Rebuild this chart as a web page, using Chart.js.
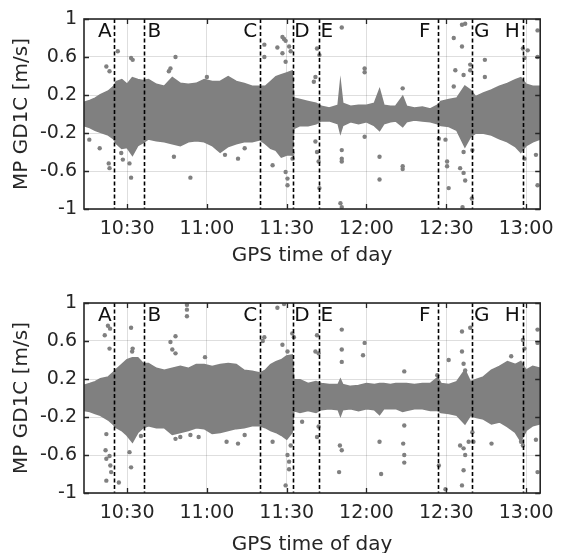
<!DOCTYPE html>
<html>
<head>
<meta charset="utf-8">
<script src="https://cdn.jsdelivr.net/npm/chart.js@4.4.1/dist/chart.umd.min.js"></script>
<style>
    html, body { margin: 0; padding: 0; background: #fff; overflow: hidden; width: 563px; height: 553px; }
    .panel { position: absolute; left: 0; width: 563px; height: 276px; }
</style>
</head>
<body>
<div class="panel" style="top:0"><canvas id="topChart" width="563" height="276"></canvas></div>
<div class="panel" style="top:284px"><canvas id="bottomChart" width="563" height="276"></canvas></div>
<script>
// time is minutes after midnight (GPS time of day)
const xMin = 613.8, xMax = 785.3;
const xTicks = [630, 660, 690, 720, 750, 780];
const xTickLabels = ["10:30", "11:00", "11:30", "12:00", "12:30", "13:00"];
const yTicks = [-1, -0.6, -0.2, 0.2, 0.6, 1];
const yTickLabels = ["-1", "-0.6", "-0.2", "0.2", "0.6", "1"];

// section boundaries A..H
const markerTimes = [625, 636.5, 680, 692.5, 702, 746.7, 759.7, 778.8];
const markerLabels = ["A", "B", "C", "D", "E", "F", "G", "H"];

// envelope of the dense point cloud
const bandTimes = [613.8, 616, 618, 620, 623, 625, 626, 628, 630, 632, 634, 636, 638, 641, 644, 647, 650, 653, 656, 659,
    662, 665, 668, 671, 674, 677, 680, 682, 684, 686, 688, 690, 692, 692.6, 695, 698, 701, 703, 706, 709.4,
    710.2, 711, 714, 717, 720, 723, 724.9, 726.5, 729, 731, 733.6, 735, 738, 741, 744, 746.7, 748, 751, 754, 757,
    759, 761, 764, 767, 770, 773, 776, 778, 780, 782.5, 785.3];

const topHi = [0.12, 0.14, 0.165, 0.20, 0.24, 0.29, 0.34, 0.36, 0.31, 0.38, 0.36, 0.35, 0.36, 0.31, 0.29, 0.38, 0.32, 0.31, 0.32, 0.36,
    0.34, 0.34, 0.39, 0.34, 0.32, 0.29, 0.29, 0.29, 0.34, 0.39, 0.41, 0.43, 0.45, 0.165, 0.15, 0.13, 0.11, 0.08, 0.06, 0.09,
    0.31, 0.11, 0.08, 0.09, 0.09, 0.11, 0.25, 0.09, 0.08, 0.08, 0.18, 0.08, 0.06, 0.07, 0.05, 0.09, 0.13, 0.15, 0.165, 0.29,
    0.25, 0.18, 0.22, 0.25, 0.29, 0.32, 0.36, 0.38, 0.31, 0.29, 0.29];
const topLo = [-0.12, -0.14, -0.17, -0.19, -0.22, -0.26, -0.31, -0.36, -0.35, -0.43, -0.33, -0.30, -0.26, -0.28, -0.29, -0.31, -0.33, -0.29, -0.28, -0.29,
    -0.33, -0.40, -0.34, -0.31, -0.29, -0.29, -0.27, -0.31, -0.36, -0.38, -0.45, -0.43, -0.43, -0.15, -0.12, -0.12, -0.10, -0.07, -0.07, -0.10,
    -0.19, -0.12, -0.08, -0.10, -0.08, -0.12, -0.17, -0.10, -0.08, -0.07, -0.13, -0.08, -0.06, -0.07, -0.08, -0.10, -0.12, -0.13, -0.17, -0.34,
    -0.24, -0.20, -0.20, -0.22, -0.26, -0.29, -0.34, -0.40, -0.33, -0.29, -0.26];

const botHi = [0.13, 0.15, 0.17, 0.20, 0.22, 0.27, 0.30, 0.35, 0.40, 0.42, 0.42, 0.36, 0.36, 0.31, 0.29, 0.31, 0.33, 0.31, 0.35, 0.35,
    0.33, 0.35, 0.36, 0.35, 0.29, 0.28, 0.26, 0.29, 0.35, 0.38, 0.40, 0.44, 0.45, 0.19, 0.19, 0.15, 0.17, 0.15, 0.14, 0.14,
    0.19, 0.14, 0.12, 0.13, 0.15, 0.14, 0.15, 0.15, 0.14, 0.15, 0.15, 0.15, 0.14, 0.15, 0.15, 0.21, 0.15, 0.14, 0.17, 0.29,
    0.17, 0.19, 0.22, 0.29, 0.33, 0.38, 0.35, 0.38, 0.29, 0.33, 0.31];
const botLo = [-0.13, -0.14, -0.16, -0.18, -0.23, -0.28, -0.31, -0.34, -0.39, -0.46, -0.36, -0.31, -0.29, -0.31, -0.31, -0.38, -0.36, -0.34, -0.31, -0.32,
    -0.37, -0.36, -0.34, -0.32, -0.31, -0.29, -0.29, -0.31, -0.34, -0.36, -0.39, -0.43, -0.36, -0.13, -0.15, -0.13, -0.15, -0.12, -0.11, -0.12,
    -0.18, -0.12, -0.11, -0.13, -0.11, -0.12, -0.17, -0.11, -0.11, -0.11, -0.14, -0.13, -0.11, -0.11, -0.13, -0.13, -0.15, -0.16, -0.18, -0.27,
    -0.18, -0.20, -0.22, -0.27, -0.25, -0.30, -0.36, -0.45, -0.34, -0.29, -0.27];

// isolated points outside the cloud
const topOutT = [615.8, 619.7, 622.2, 623.4, 623.4, 623.1, 626.5, 627.8, 628.4, 631.5, 632.1, 631.5, 630.9, 648.2, 647.6, 646.3, 645.7, 653.8, 660, 666.8,
    671.7, 674.2, 681.6, 681.6, 686.5, 688.4, 689, 689.6, 689.6, 690.9, 691.5, 688.4, 684.7, 689.6, 690.3, 690.3, 692.2, 692.2, 701.4, 702.3,
    700.8, 700.2, 700.8, 701.4, 702, 702.3, 710.7, 710.7, 710.7, 710.7, 710.2, 710.7, 719.3, 719.3, 719.3, 724.9, 724.9,
    733.6, 733.6, 733.6, 752.8, 755.9, 755.9, 757.1, 753.4, 752.8, 756.5, 759, 759, 764.5, 764.5, 750.3, 750.3, 750.9, 756.5, 755.2,
    756.5, 757.1, 756.1, 759.8, 759.6, 778.8, 779.4, 780.6, 784.3, 784.3, 783.7, 784.3, 779.4, 747.2, 749.7];
const topOutV = [-0.27, -0.36, 0.50, 0.45, -0.57, -0.52, 0.66, -0.41, -0.48, 0.59, 0.57, -0.67, -0.52, 0.60, -0.45, 0.48, 0.45, -0.67, 0.39, -0.43,
    -0.47, -0.36, 0.73, 0.60, 0.70, 0.81, 0.79, 0.77, 0.55, 0.71, 0.66, 0.64, -0.54, -0.61, -0.68, -0.75, -0.41, -0.47, 0.69, 0.62,
    0.39, 0.34, -0.29, -0.40, -0.50, -0.78, 0.91, -0.38, -0.47, -0.50, -0.94, -0.98, 0.48, 0.44, -0.24, -0.45, -0.69,
    0.27, -0.55, -0.58, 0.80, 0.71, 0.94, 0.95, 0.46, 0.29, 0.41, 0.52, 0.46, 0.57, 0.39, -0.50, -0.55, -0.78, -0.40, -0.57,
    -0.62, -0.70, -0.98, -0.38, -0.89, 0.69, 0.59, 0.67, 0.88, 0.60, -0.43, -0.75, -0.47, -0.26, -0.27];

const botOutT = [621.6, 622.8, 623.6, 623.4, 631.5, 631.9, 632.1, 622.2, 621.9, 622.2, 623.4, 623.7, 622.2, 626.9, 624, 630.9, 631.5, 635.2,
    648.2, 646.3, 647, 648.2, 652.5, 652.5, 652.5, 659.3, 648.2, 650, 653.8, 656.9, 667.4,
    689, 686.5, 681.6, 681, 688.4, 690.3, 692.1, 692.7, 701.4, 700.8, 702, 710.7, 710.7, 710.7, 719.3, 718.7, 671.7, 674.2, 684.7,
    690.3, 690.9, 690.9, 689.6, 691.5, 701.4, 702, 710, 710.7, 709.7, 724.9, 725.5, 695.8,
    734.2, 734.2, 733.8, 734.2, 734.2, 746.6, 747.2, 749.7, 750.9, 755.9, 759, 755.9, 756.5, 757.1, 755.2, 756.5, 757.1, 758.4,
    759.8, 760.2, 756.5, 755.9, 767, 774.4, 778.8, 779.4, 778.1, 778.8, 783.7, 784.3, 784.3, 784.3];
const botOutV = [0.66, 0.76, 0.73, 0.52, 0.74, 0.49, 0.52, -0.38, -0.55, -0.64, -0.61, -0.71, -0.87, -0.89, -0.78, -0.57, -0.73, -0.40,
    0.65, 0.59, 0.51, 0.47, 0.98, 0.93, 0.86, 0.43, -0.43, -0.41, -0.39, -0.41, -0.46,
    0.99, 0.95, 0.64, 0.60, 0.56, 0.49, 0.68, 0.64, 0.66, 0.49, 0.47, 0.72, 0.51, 0.38, 0.58, 0.45, -0.48, -0.39, -0.46,
    -0.60, -0.67, -0.75, -0.92, -0.50, -0.41, -0.30, -0.50, -0.55, -0.78, -0.46, -0.80, -0.25,
    0.28, -0.29, -0.48, -0.60, -0.68, 0.24, -0.71, -0.96, 0.40, 0.70, 0.74, 0.49, 0.36, 0.29, -0.50, -0.53, -0.60, -0.46,
    -0.36, -0.46, -0.76, -0.92, -0.48, 0.44, 0.61, 0.52, -0.46, -0.50, -0.44, 0.72, -0.78, 0.58];

const GRAY = "#808080";
const INK = "#262626";
const FONT = "'DejaVu Sans', sans-serif";

// MATLAB-style box, inward ticks, dashed section lines and letters
const matlabAxes = {
    id: "matlabAxes",
    afterDatasetsDraw(chart) {
        const { ctx, chartArea: a, scales: { x, y } } = chart;
        ctx.save();

        // dashed section lines
        ctx.strokeStyle = "#000";
        ctx.lineWidth = 1.6;
        ctx.setLineDash([4, 2.5]);
        markerTimes.forEach(t => {
            const px = Math.round(x.getPixelForValue(t)) + 0.5;
            ctx.beginPath();
            ctx.moveTo(px, a.top);
            ctx.lineTo(px, a.bottom);
            ctx.stroke();
        });
        ctx.setLineDash([]);

        // letters next to the lines
        const sides = ["L", "R", "L", "R", "R", "L", "R", "L"];
        const gaps = [2, 3, 3, 1, 2, 7, 2, 3];
        ctx.fillStyle = "#111";
        ctx.font = "20px " + FONT;
        ctx.textBaseline = "middle";
        markerTimes.forEach((t, i) => {
            const px = x.getPixelForValue(t);
            if (sides[i] === "L") {
                ctx.textAlign = "right";
                ctx.fillText(markerLabels[i], px - gaps[i], a.top + 13);
            } else {
                ctx.textAlign = "left";
                ctx.fillText(markerLabels[i], px + gaps[i], a.top + 13);
            }
        });

        // inward ticks on all four sides
        ctx.strokeStyle = INK;
        ctx.lineWidth = 1.3;
        ctx.beginPath();
        xTicks.forEach(t => {
            const px = Math.round(x.getPixelForValue(t)) + 0.5;
            ctx.moveTo(px, a.bottom); ctx.lineTo(px, a.bottom - 5);
            ctx.moveTo(px, a.top); ctx.lineTo(px, a.top + 5);
        });
        yTicks.forEach(v => {
            const py = Math.round(y.getPixelForValue(v)) + 0.5;
            ctx.moveTo(a.left, py); ctx.lineTo(a.left + 5, py);
            ctx.moveTo(a.right, py); ctx.lineTo(a.right - 5, py);
        });
        ctx.stroke();

        // box
        ctx.lineWidth = 1.6;
        ctx.strokeRect(a.left, a.top, a.right - a.left, a.bottom - a.top);
        ctx.restore();
    }
};

function makeChart(id, hi, lo, outT, outV, titleGap) {
    const ctx = document.getElementById(id).getContext("2d");
    return new Chart(ctx, {
        type: "line",
        data: {
            datasets: [{
                data: bandTimes.map((t, i) => ({ x: t, y: hi[i] })),
                borderColor: GRAY,
                borderWidth: 2,
                pointRadius: 0,
                fill: false
            }, {
                data: bandTimes.map((t, i) => ({ x: t, y: lo[i] })),
                borderColor: GRAY,
                borderWidth: 2,
                pointRadius: 0,
                backgroundColor: GRAY,
                fill: "-1"
            }, {
                type: "scatter",
                data: outT.map((t, i) => ({ x: t, y: outV[i] })),
                backgroundColor: GRAY,
                borderWidth: 0,
                pointRadius: 2.2
            }]
        },
        options: {
            responsive: false,
            animation: false,
            devicePixelRatio: 1,
            layout: { padding: { left: 0, right: 17, top: 19, bottom: 0 } },
            plugins: {
                legend: { display: false },
                tooltip: { enabled: false }
            },
            scales: {
                x: {
                    type: "linear",
                    min: xMin,
                    max: xMax,
                    afterBuildTicks: s => { s.ticks = xTicks.map(v => ({ value: v })); },
                    afterFit: s => { s.height = 67; },
                    ticks: {
                        autoSkip: false,
                        maxRotation: 0,
                        padding: 9,
                        color: INK,
                        font: { family: FONT, size: 19 },
                        callback: (v, i) => xTickLabels[i]
                    },
                    grid: { color: "rgba(0,0,0,0.13)", drawTicks: false },
                    border: { display: false },
                    title: {
                        display: true,
                        text: "GPS time of day",
                        color: INK,
                        font: { family: FONT, size: 20 },
                        padding: { top: 0, bottom: titleGap }
                    }
                },
                y: {
                    type: "linear",
                    min: -1,
                    max: 1,
                    afterBuildTicks: s => { s.ticks = yTicks.map(v => ({ value: v })); },
                    afterFit: s => { s.width = 84; },
                    ticks: {
                        padding: 7,
                        color: INK,
                        font: { family: FONT, size: 19 },
                        callback: (v, i) => yTickLabels[i]
                    },
                    grid: { color: "rgba(0,0,0,0.13)", drawTicks: false },
                    border: { display: false },
                    title: {
                        display: true,
                        text: "MP GD1C [m/s]",
                        color: INK,
                        font: { family: FONT, size: 20 },
                        padding: { top: 10, bottom: 0 }
                    }
                }
            }
        },
        plugins: [matlabAxes]
    });
}

makeChart("topChart", topHi, topLo, topOutT, topOutV, 8);
makeChart("bottomChart", botHi, botLo, botOutT, botOutV, 3);
</script>
</body>
</html>
